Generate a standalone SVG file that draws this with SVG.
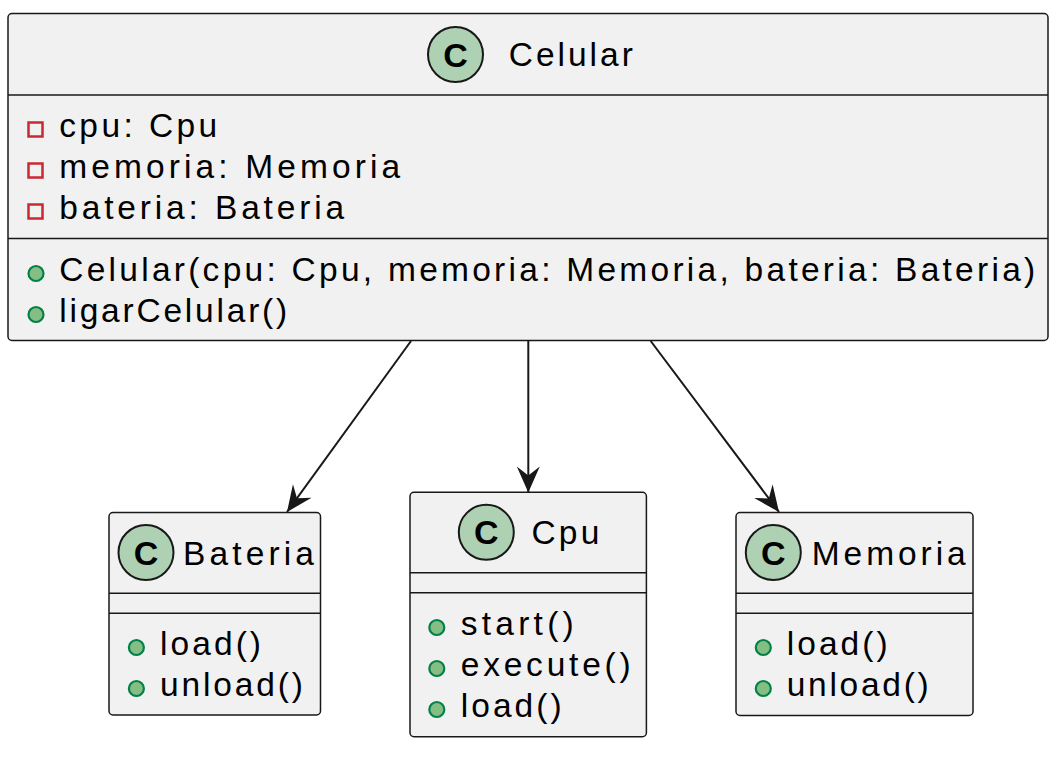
<svg xmlns="http://www.w3.org/2000/svg" width="1060" height="760" viewBox="0 0 1060 760">
<defs>
<style>
.box{fill:#F1F1F1;stroke:#181818;stroke-width:1.5}
.div{stroke:#181818;stroke-width:1.5}
.ic{fill:#ADD1B2;stroke:#181818;stroke-width:2}
.icc{font-family:"Liberation Sans",Arial,sans-serif;font-weight:bold;font-size:34px;fill:#000;text-anchor:middle}
.t{font-family:"Liberation Sans",Arial,sans-serif;font-size:33.5px;fill:#000}
.priv{fill:none;stroke:#C82930;stroke-width:2.5}
.pub{fill:#84BE84;stroke:#038048;stroke-width:2.2}
.edge{stroke:#181818;stroke-width:2;fill:none}
</style>
<marker id="arr" markerUnits="userSpaceOnUse" markerWidth="30" markerHeight="30" refX="0" refY="0" orient="auto" overflow="visible" viewBox="-30 -15 30 30">
<path d="M0,0 L-26,-11.5 L-17,0 L-26,11.5 Z" fill="#181818"/>
</marker>
</defs>
<rect width="1060" height="760" fill="#FFFFFF"/>
<g id="edges">
<line class="edge" x1="411" y1="341" x2="287" y2="512" marker-end="url(#arr)"/>
<line class="edge" x1="528.3" y1="341" x2="528.3" y2="492.5" marker-end="url(#arr)"/>
<line class="edge" x1="650.7" y1="341" x2="779" y2="512" marker-end="url(#arr)"/>
</g>
<g id="Celular">
<rect class="box" x="8" y="13.5" width="1040" height="327" rx="4"/>
<circle class="ic" cx="455.5" cy="54.5" r="27.5"/>
<text class="icc" x="455.5" y="66.5">C</text>
<text class="t" x="508.8" y="66" textLength="124" lengthAdjust="spacing">Celular</text>
<line class="div" x1="8" y1="95" x2="1048" y2="95"/>
<rect class="priv" x="28.5" y="122.5" width="14" height="14"/>
<text class="t" x="59.2" y="137" textLength="158" lengthAdjust="spacing">cpu: Cpu</text>
<rect class="priv" x="28.5" y="163.5" width="14" height="14"/>
<text class="t" x="59.2" y="178" textLength="341" lengthAdjust="spacing">memoria: Memoria</text>
<rect class="priv" x="28.5" y="204.5" width="14" height="14"/>
<text class="t" x="59.2" y="219" textLength="285" lengthAdjust="spacing">bateria: Bateria</text>
<line class="div" x1="8" y1="238.5" x2="1048" y2="238.5"/>
<circle class="pub" cx="36" cy="273.5" r="7.5"/>
<text class="t" x="59.2" y="281" textLength="976" lengthAdjust="spacing">Celular(cpu: Cpu, memoria: Memoria, bateria: Bateria)</text>
<circle class="pub" cx="36" cy="314.5" r="7.5"/>
<text class="t" x="59.2" y="322" textLength="228" lengthAdjust="spacing">ligarCelular()</text>
</g>
<g id="Bateria">
<rect class="box" x="109" y="512.5" width="211.5" height="202.5" rx="4"/>
<circle class="ic" cx="146" cy="552.5" r="27.5"/>
<text class="icc" x="146" y="564.5">C</text>
<text class="t" x="183" y="565" textLength="131" lengthAdjust="spacing">Bateria</text>
<line class="div" x1="109" y1="593.3" x2="320.5" y2="593.3"/>
<line class="div" x1="109" y1="613.3" x2="320.5" y2="613.3"/>
<circle class="pub" cx="136.4" cy="647.5" r="7.5"/>
<text class="t" x="160" y="655" textLength="101" lengthAdjust="spacing">load()</text>
<circle class="pub" cx="136.4" cy="688.5" r="7.5"/>
<text class="t" x="160" y="696" textLength="143" lengthAdjust="spacing">unload()</text>
</g>
<g id="Cpu">
<rect class="box" x="410" y="492.3" width="236.4" height="244.4" rx="4"/>
<circle class="ic" cx="486.3" cy="532.3" r="27.5"/>
<text class="icc" x="486.3" y="544.3">C</text>
<text class="t" x="531.4" y="544" textLength="68" lengthAdjust="spacing">Cpu</text>
<line class="div" x1="410" y1="572.7" x2="646.4" y2="572.7"/>
<line class="div" x1="410" y1="592.7" x2="646.4" y2="592.7"/>
<circle class="pub" cx="436.8" cy="627.5" r="7.5"/>
<text class="t" x="460.7" y="635" textLength="113" lengthAdjust="spacing">start()</text>
<circle class="pub" cx="436.8" cy="668.5" r="7.5"/>
<text class="t" x="460.7" y="676" textLength="170" lengthAdjust="spacing">execute()</text>
<circle class="pub" cx="436.8" cy="709.5" r="7.5"/>
<text class="t" x="460.7" y="717" textLength="101" lengthAdjust="spacing">load()</text>
</g>
<g id="Memoria">
<rect class="box" x="736" y="512.5" width="237" height="203" rx="4"/>
<circle class="ic" cx="773.3" cy="552.5" r="27.5"/>
<text class="icc" x="773.3" y="564.5">C</text>
<text class="t" x="811.7" y="565" textLength="154" lengthAdjust="spacing">Memoria</text>
<line class="div" x1="736" y1="593.3" x2="973" y2="593.3"/>
<line class="div" x1="736" y1="613.3" x2="973" y2="613.3"/>
<circle class="pub" cx="763.3" cy="647.5" r="7.5"/>
<text class="t" x="786.7" y="655" textLength="101" lengthAdjust="spacing">load()</text>
<circle class="pub" cx="763.3" cy="688.5" r="7.5"/>
<text class="t" x="786.7" y="696" textLength="142" lengthAdjust="spacing">unload()</text>
</g>
</svg>
